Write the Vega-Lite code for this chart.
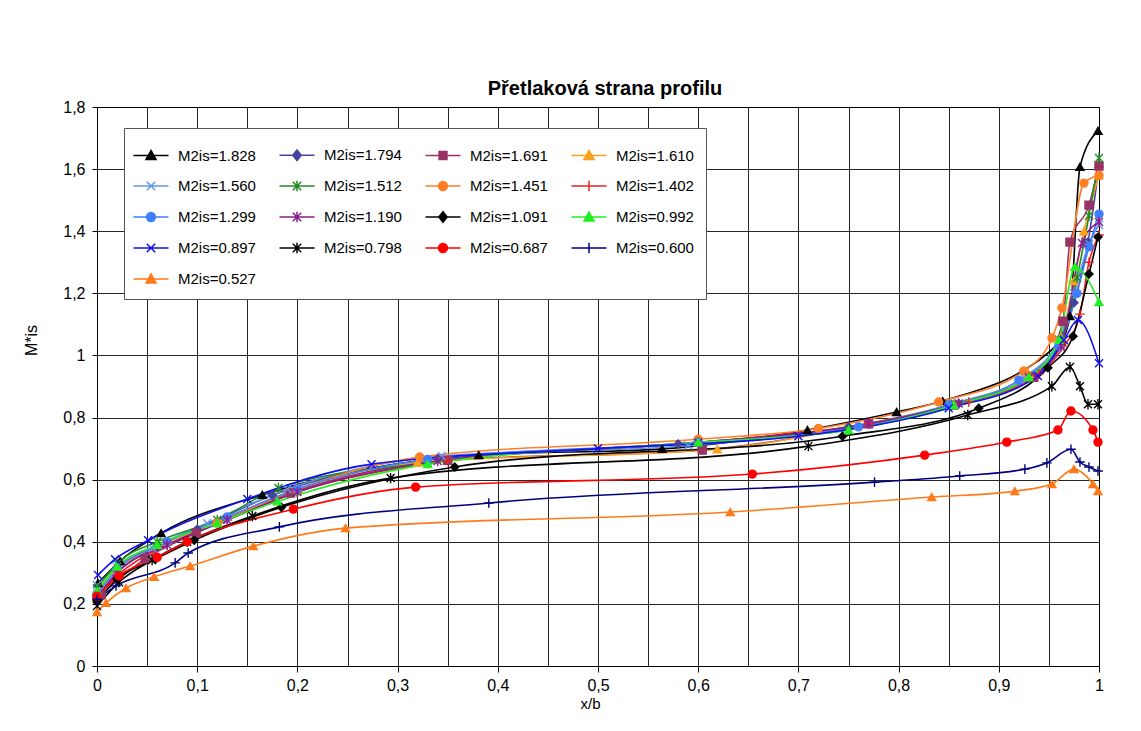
{
  "$schema": "https://vega.github.io/schema/vega-lite/v6.json",
  "width": 1002,
  "height": 559,
  "autosize": {"type": "none"},
  "padding": {"left": 97, "top": 107, "right": 42, "bottom": 65},
  "background": "white",
  "config": {
    "view": {"stroke": "#000000", "strokeWidth": 1},
    "font": "Liberation Sans",
    "axis": {"domainColor": "#000000", "tickColor": "#000000", "gridColor": "#000000", "gridOpacity": 0.85, "labelColor": "#000000", "titleColor": "#000000", "labelFont": "Liberation Sans", "titleFont": "Liberation Sans"}
  },
  "title": {"text": "Přetlaková strana profilu", "fontSize": 20, "fontWeight": "bold", "font": "Liberation Sans", "color": "#000000", "anchor": "middle", "offset": 0, "dx": 7},
  "data": {"values": [
    {"s":"M2is=1.828","x":0.001,"y":0.267},{"s":"M2is=1.828","x":0.023,"y":0.338},{"s":"M2is=1.828","x":0.064,"y":0.428},{"s":"M2is=1.828","x":0.165,"y":0.551},{"s":"M2is=1.828","x":0.381,"y":0.679},{"s":"M2is=1.828","x":0.564,"y":0.699},{"s":"M2is=1.828","x":0.709,"y":0.76},{"s":"M2is=1.828","x":0.798,"y":0.818},{"s":"M2is=1.828","x":0.844,"y":0.853},{"s":"M2is=1.828","x":0.962,"y":1.046},{"s":"M2is=1.828","x":0.971,"y":1.127},{"s":"M2is=1.828","x":0.981,"y":1.607},{"s":"M2is=1.828","x":0.999,"y":1.723},
    {"s":"M2is=1.794","x":0,"y":0.22},{"s":"M2is=1.794","x":0.02,"y":0.3},{"s":"M2is=1.794","x":0.06,"y":0.385},{"s":"M2is=1.794","x":0.1,"y":0.44},{"s":"M2is=1.794","x":0.175,"y":0.55},{"s":"M2is=1.794","x":0.34,"y":0.668},{"s":"M2is=1.794","x":0.58,"y":0.715},{"s":"M2is=1.794","x":0.75,"y":0.77},{"s":"M2is=1.794","x":0.86,"y":0.845},{"s":"M2is=1.794","x":0.93,"y":0.93},{"s":"M2is=1.794","x":0.963,"y":1.06},{"s":"M2is=1.794","x":0.975,"y":1.17},{"s":"M2is=1.794","x":0.989,"y":1.365},{"s":"M2is=1.794","x":1.0,"y":1.607},
    {"s":"M2is=1.691","x":0.004,"y":0.229},{"s":"M2is=1.691","x":0.048,"y":0.345},{"s":"M2is=1.691","x":0.099,"y":0.428},{"s":"M2is=1.691","x":0.193,"y":0.557},{"s":"M2is=1.691","x":0.35,"y":0.662},{"s":"M2is=1.691","x":0.604,"y":0.695},{"s":"M2is=1.691","x":0.77,"y":0.78},{"s":"M2is=1.691","x":0.855,"y":0.84},{"s":"M2is=1.691","x":0.935,"y":0.93},{"s":"M2is=1.691","x":0.964,"y":1.11},{"s":"M2is=1.691","x":0.971,"y":1.365},{"s":"M2is=1.691","x":0.99,"y":1.484},{"s":"M2is=1.691","x":1.0,"y":1.61},
    {"s":"M2is=1.610","x":0,"y":0.24},{"s":"M2is=1.610","x":0.02,"y":0.31},{"s":"M2is=1.610","x":0.07,"y":0.4},{"s":"M2is=1.610","x":0.12,"y":0.465},{"s":"M2is=1.610","x":0.2,"y":0.57},{"s":"M2is=1.610","x":0.32,"y":0.655},{"s":"M2is=1.610","x":0.619,"y":0.698},{"s":"M2is=1.610","x":0.76,"y":0.775},{"s":"M2is=1.610","x":0.855,"y":0.845},{"s":"M2is=1.610","x":0.93,"y":0.94},{"s":"M2is=1.610","x":0.962,"y":1.06},{"s":"M2is=1.610","x":0.975,"y":1.24},{"s":"M2is=1.610","x":0.985,"y":1.4},{"s":"M2is=1.610","x":1.0,"y":1.58},
    {"s":"M2is=1.560","x":0,"y":0.26},{"s":"M2is=1.560","x":0.02,"y":0.32},{"s":"M2is=1.560","x":0.055,"y":0.38},{"s":"M2is=1.560","x":0.11,"y":0.46},{"s":"M2is=1.560","x":0.19,"y":0.57},{"s":"M2is=1.560","x":0.344,"y":0.676},{"s":"M2is=1.560","x":0.59,"y":0.71},{"s":"M2is=1.560","x":0.77,"y":0.78},{"s":"M2is=1.560","x":0.855,"y":0.845},{"s":"M2is=1.560","x":0.925,"y":0.93},{"s":"M2is=1.560","x":0.96,"y":1.05},{"s":"M2is=1.560","x":0.975,"y":1.2},{"s":"M2is=1.560","x":0.99,"y":1.36},{"s":"M2is=1.560","x":1.0,"y":1.42},
    {"s":"M2is=1.512","x":0,"y":0.25},{"s":"M2is=1.512","x":0.02,"y":0.33},{"s":"M2is=1.512","x":0.06,"y":0.4},{"s":"M2is=1.512","x":0.12,"y":0.47},{"s":"M2is=1.512","x":0.181,"y":0.573},{"s":"M2is=1.512","x":0.33,"y":0.655},{"s":"M2is=1.512","x":0.6,"y":0.72},{"s":"M2is=1.512","x":0.75,"y":0.76},{"s":"M2is=1.512","x":0.853,"y":0.84},{"s":"M2is=1.512","x":0.93,"y":0.93},{"s":"M2is=1.512","x":0.962,"y":1.05},{"s":"M2is=1.512","x":0.978,"y":1.25},{"s":"M2is=1.512","x":0.99,"y":1.45},{"s":"M2is=1.512","x":1.0,"y":1.636},
    {"s":"M2is=1.451","x":0,"y":0.23},{"s":"M2is=1.451","x":0.02,"y":0.31},{"s":"M2is=1.451","x":0.07,"y":0.4},{"s":"M2is=1.451","x":0.12,"y":0.46},{"s":"M2is=1.451","x":0.2,"y":0.57},{"s":"M2is=1.451","x":0.322,"y":0.673},{"s":"M2is=1.451","x":0.6,"y":0.73},{"s":"M2is=1.451","x":0.72,"y":0.765},{"s":"M2is=1.451","x":0.84,"y":0.85},{"s":"M2is=1.451","x":0.925,"y":0.95},{"s":"M2is=1.451","x":0.953,"y":1.056},{"s":"M2is=1.451","x":0.963,"y":1.153},{"s":"M2is=1.451","x":0.985,"y":1.555},{"s":"M2is=1.451","x":1.0,"y":1.58},
    {"s":"M2is=1.402","x":0,"y":0.22},{"s":"M2is=1.402","x":0.02,"y":0.29},{"s":"M2is=1.402","x":0.07,"y":0.39},{"s":"M2is=1.402","x":0.13,"y":0.47},{"s":"M2is=1.402","x":0.2,"y":0.56},{"s":"M2is=1.402","x":0.35,"y":0.66},{"s":"M2is=1.402","x":0.6,"y":0.72},{"s":"M2is=1.402","x":0.77,"y":0.78},{"s":"M2is=1.402","x":0.87,"y":0.85},{"s":"M2is=1.402","x":0.94,"y":0.94},{"s":"M2is=1.402","x":0.965,"y":1.03},{"s":"M2is=1.402","x":0.981,"y":1.133},{"s":"M2is=1.402","x":0.99,"y":1.3},{"s":"M2is=1.402","x":1.0,"y":1.388},
    {"s":"M2is=1.299","x":0,"y":0.23},{"s":"M2is=1.299","x":0.02,"y":0.31},{"s":"M2is=1.299","x":0.07,"y":0.4},{"s":"M2is=1.299","x":0.13,"y":0.48},{"s":"M2is=1.299","x":0.2,"y":0.57},{"s":"M2is=1.299","x":0.33,"y":0.665},{"s":"M2is=1.299","x":0.6,"y":0.72},{"s":"M2is=1.299","x":0.76,"y":0.77},{"s":"M2is=1.299","x":0.85,"y":0.84},{"s":"M2is=1.299","x":0.92,"y":0.92},{"s":"M2is=1.299","x":0.96,"y":1.03},{"s":"M2is=1.299","x":0.978,"y":1.2},{"s":"M2is=1.299","x":0.99,"y":1.35},{"s":"M2is=1.299","x":1.0,"y":1.455},
    {"s":"M2is=1.190","x":0,"y":0.22},{"s":"M2is=1.190","x":0.02,"y":0.3},{"s":"M2is=1.190","x":0.07,"y":0.39},{"s":"M2is=1.190","x":0.13,"y":0.47},{"s":"M2is=1.190","x":0.2,"y":0.56},{"s":"M2is=1.190","x":0.34,"y":0.66},{"s":"M2is=1.190","x":0.6,"y":0.72},{"s":"M2is=1.190","x":0.77,"y":0.78},{"s":"M2is=1.190","x":0.86,"y":0.845},{"s":"M2is=1.190","x":0.93,"y":0.93},{"s":"M2is=1.190","x":0.962,"y":1.03},{"s":"M2is=1.190","x":0.983,"y":1.362},{"s":"M2is=1.190","x":1.0,"y":1.43},
    {"s":"M2is=1.091","x":0,"y":0.21},{"s":"M2is=1.091","x":0.02,"y":0.28},{"s":"M2is=1.091","x":0.058,"y":0.344},{"s":"M2is=1.091","x":0.097,"y":0.405},{"s":"M2is=1.091","x":0.184,"y":0.511},{"s":"M2is=1.091","x":0.357,"y":0.641},{"s":"M2is=1.091","x":0.744,"y":0.74},{"s":"M2is=1.091","x":0.88,"y":0.83},{"s":"M2is=1.091","x":0.949,"y":0.96},{"s":"M2is=1.091","x":0.974,"y":1.062},{"s":"M2is=1.091","x":0.99,"y":1.262},{"s":"M2is=1.091","x":0.999,"y":1.381},
    {"s":"M2is=0.992","x":0,"y":0.24},{"s":"M2is=0.992","x":0.02,"y":0.32},{"s":"M2is=0.992","x":0.06,"y":0.39},{"s":"M2is=0.992","x":0.12,"y":0.46},{"s":"M2is=0.992","x":0.18,"y":0.53},{"s":"M2is=0.992","x":0.33,"y":0.65},{"s":"M2is=0.992","x":0.6,"y":0.72},{"s":"M2is=0.992","x":0.75,"y":0.76},{"s":"M2is=0.992","x":0.855,"y":0.84},{"s":"M2is=0.992","x":0.93,"y":0.93},{"s":"M2is=0.992","x":0.96,"y":1.05},{"s":"M2is=0.992","x":0.976,"y":1.285},{"s":"M2is=0.992","x":1.0,"y":1.172},
    {"s":"M2is=0.897","x":0.001,"y":0.293},{"s":"M2is=0.897","x":0.018,"y":0.344},{"s":"M2is=0.897","x":0.051,"y":0.405},{"s":"M2is=0.897","x":0.15,"y":0.538},{"s":"M2is=0.897","x":0.274,"y":0.65},{"s":"M2is=0.897","x":0.5,"y":0.7},{"s":"M2is=0.897","x":0.7,"y":0.74},{"s":"M2is=0.897","x":0.85,"y":0.83},{"s":"M2is=0.897","x":0.939,"y":0.934},{"s":"M2is=0.897","x":0.965,"y":1.05},{"s":"M2is=0.897","x":0.979,"y":1.114},{"s":"M2is=0.897","x":1.0,"y":0.975},
    {"s":"M2is=0.798","x":0,"y":0.193},{"s":"M2is=0.798","x":0.022,"y":0.27},{"s":"M2is=0.798","x":0.055,"y":0.341},{"s":"M2is=0.798","x":0.09,"y":0.4},{"s":"M2is=0.798","x":0.155,"y":0.483},{"s":"M2is=0.798","x":0.293,"y":0.605},{"s":"M2is=0.798","x":0.71,"y":0.708},{"s":"M2is=0.798","x":0.869,"y":0.808},{"s":"M2is=0.798","x":0.953,"y":0.901},{"s":"M2is=0.798","x":0.971,"y":0.963},{"s":"M2is=0.798","x":0.981,"y":0.901},{"s":"M2is=0.798","x":0.989,"y":0.843},{"s":"M2is=0.798","x":0.999,"y":0.843},
    {"s":"M2is=0.687","x":0,"y":0.225},{"s":"M2is=0.687","x":0.022,"y":0.29},{"s":"M2is=0.687","x":0.06,"y":0.35},{"s":"M2is=0.687","x":0.09,"y":0.4},{"s":"M2is=0.687","x":0.196,"y":0.505},{"s":"M2is=0.687","x":0.318,"y":0.576},{"s":"M2is=0.687","x":0.654,"y":0.618},{"s":"M2is=0.687","x":0.826,"y":0.679},{"s":"M2is=0.687","x":0.908,"y":0.721},{"s":"M2is=0.687","x":0.959,"y":0.76},{"s":"M2is=0.687","x":0.972,"y":0.821},{"s":"M2is=0.687","x":0.994,"y":0.76},{"s":"M2is=0.687","x":0.999,"y":0.721},
    {"s":"M2is=0.600","x":0,"y":0.215},{"s":"M2is=0.600","x":0.019,"y":0.258},{"s":"M2is=0.600","x":0.078,"y":0.332},{"s":"M2is=0.600","x":0.091,"y":0.364},{"s":"M2is=0.600","x":0.182,"y":0.448},{"s":"M2is=0.600","x":0.391,"y":0.525},{"s":"M2is=0.600","x":0.776,"y":0.592},{"s":"M2is=0.600","x":0.861,"y":0.612},{"s":"M2is=0.600","x":0.926,"y":0.634},{"s":"M2is=0.600","x":0.948,"y":0.654},{"s":"M2is=0.600","x":0.972,"y":0.698},{"s":"M2is=0.600","x":0.981,"y":0.657},{"s":"M2is=0.600","x":0.99,"y":0.641},{"s":"M2is=0.600","x":0.999,"y":0.628},
    {"s":"M2is=0.527","x":0,"y":0.174},{"s":"M2is=0.527","x":0.009,"y":0.203},{"s":"M2is=0.527","x":0.029,"y":0.251},{"s":"M2is=0.527","x":0.057,"y":0.287},{"s":"M2is=0.527","x":0.093,"y":0.322},{"s":"M2is=0.527","x":0.156,"y":0.386},{"s":"M2is=0.527","x":0.248,"y":0.444},{"s":"M2is=0.527","x":0.632,"y":0.496},{"s":"M2is=0.527","x":0.833,"y":0.544},{"s":"M2is=0.527","x":0.916,"y":0.563},{"s":"M2is=0.527","x":0.953,"y":0.586},{"s":"M2is=0.527","x":0.975,"y":0.634},{"s":"M2is=0.527","x":0.994,"y":0.586},{"s":"M2is=0.527","x":0.999,"y":0.563}
  ]},
  "encoding": {
    "x": {"field": "x", "type": "quantitative", "scale": {"domain": [0, 1], "nice": false, "zero": false},
      "axis": {"title": "x/b", "values": [0,0.05,0.1,0.15,0.2,0.25,0.3,0.35,0.4,0.45,0.5,0.55,0.6,0.65,0.7,0.75,0.8,0.85,0.9,0.95,1],
        "labelExpr": "round(datum.value*20)%2==0 ? replace(format(datum.value,'~g'),'.',',') : ''",
        "tickOpacity": {"condition": {"test": "round(datum.value*20)%2==1", "value": 0}, "value": 1},
        "labelFontSize": 16, "labelPadding": 5, "tickSize": 6, "titleFontSize": 15, "titleFontWeight": "normal", "titleX": 493, "titleY": 30, "titleBaseline": "top", "labelFlush": false}},
    "y": {"field": "y", "type": "quantitative", "scale": {"domain": [0, 1.8], "nice": false},
      "axis": {"title": "M*is", "values": [0,0.2,0.4,0.6,0.8,1,1.2,1.4,1.6,1.8],
        "labelExpr": "replace(format(datum.value,'~g'),'.',',')",
        "labelFontSize": 16, "labelPadding": 7, "tickSize": 5, "titleFontSize": 16, "titleFontWeight": "normal", "titleX": -58, "titleY": 233, "titleAngle": -90}}
  },
  "layer": [
    {
      "mark": {"type": "line", "interpolate": "monotone", "strokeWidth": 1.6},
      "encoding": {
        "color": {"field": "s", "type": "nominal",
          "scale": {"domain": ["M2is=1.828","M2is=1.794","M2is=1.691","M2is=1.610","M2is=1.560","M2is=1.512","M2is=1.451","M2is=1.402","M2is=1.299","M2is=1.190","M2is=1.091","M2is=0.992","M2is=0.897","M2is=0.798","M2is=0.687","M2is=0.600","M2is=0.527"],
            "range": ["#000000","#44449E","#993366","#F9A11B","#6495ED","#228B22","#FF7F27","#EE2020","#3F7FFF","#8B1C8B","#000000","#22EE22","#1010F0","#000000","#FF0000","#000080","#FF7A1A"]},
          "legend": {"title": null, "orient": "none", "legendX": 27, "legendY": 21, "columns": 4, "direction": "horizontal", "columnPadding": 20, "rowPadding": 7, "padding": 12,
            "fillColor": "#ffffff", "strokeColor": "#555555", "labelFontSize": 15, "labelColor": "#000000", "labelFont": "Liberation Sans", "labelOffset": 12, "symbolSize": 784, "symbolStrokeWidth": 1.5, "symbolOpacity": 1,
            "encode": {"symbols": {"update": {
              "shape": {"signal": "['M-1.25,0H1.25M0,-0.36L0.36,0.28L-0.36,0.28Z','M-1.25,0H1.25M0,-0.38L0.3,0L0,0.38L-0.3,0Z','M-1.25,0H1.25M-0.28,-0.28H0.28V0.28H-0.28Z','M-1.25,0H1.25M0,-0.36L0.36,0.28L-0.36,0.28Z','M-1.25,0H1.25M-0.3,-0.3L0.3,0.3M-0.3,0.3L0.3,-0.3','M-1.25,0H1.25M-0.3,-0.3L0.3,0.3M-0.3,0.3L0.3,-0.3M0,-0.38V0.38','M-1.25,0H1.25M-0.32,0A0.32,0.32,0,1,0,0.32,0A0.32,0.32,0,1,0,-0.32,0Z','M-1.25,0H1.25M0,-0.38V0.38','M-1.25,0H1.25M-0.32,0A0.32,0.32,0,1,0,0.32,0A0.32,0.32,0,1,0,-0.32,0Z','M-1.25,0H1.25M-0.3,-0.3L0.3,0.3M-0.3,0.3L0.3,-0.3M0,-0.38V0.38','M-1.25,0H1.25M0,-0.38L0.3,0L0,0.38L-0.3,0Z','M-1.25,0H1.25M0,-0.36L0.36,0.28L-0.36,0.28Z','M-1.25,0H1.25M-0.3,-0.3L0.3,0.3M-0.3,0.3L0.3,-0.3','M-1.25,0H1.25M-0.3,-0.3L0.3,0.3M-0.3,0.3L0.3,-0.3M0,-0.38V0.38','M-1.25,0H1.25M-0.32,0A0.32,0.32,0,1,0,0.32,0A0.32,0.32,0,1,0,-0.32,0Z','M-1.25,0H1.25M0,-0.38V0.38','M-1.25,0H1.25M0,-0.36L0.36,0.28L-0.36,0.28Z'][indexof(domain('color'), datum.value)]"},
              "strokeWidth": {"value": 1.5}
            }}},
            "encoding": {"symbols": {
              "shape": {"value": {"expr": "['M-1.25,0H1.25M0,-0.36L0.36,0.28L-0.36,0.28Z','M-1.25,0H1.25M0,-0.38L0.3,0L0,0.38L-0.3,0Z','M-1.25,0H1.25M-0.28,-0.28H0.28V0.28H-0.28Z','M-1.25,0H1.25M0,-0.36L0.36,0.28L-0.36,0.28Z','M-1.25,0H1.25M-0.3,-0.3L0.3,0.3M-0.3,0.3L0.3,-0.3','M-1.25,0H1.25M-0.3,-0.3L0.3,0.3M-0.3,0.3L0.3,-0.3M0,-0.38V0.38','M-1.25,0H1.25M-0.32,0A0.32,0.32,0,1,0,0.32,0A0.32,0.32,0,1,0,-0.32,0Z','M-1.25,0H1.25M0,-0.38V0.38','M-1.25,0H1.25M-0.32,0A0.32,0.32,0,1,0,0.32,0A0.32,0.32,0,1,0,-0.32,0Z','M-1.25,0H1.25M-0.3,-0.3L0.3,0.3M-0.3,0.3L0.3,-0.3M0,-0.38V0.38','M-1.25,0H1.25M0,-0.38L0.3,0L0,0.38L-0.3,0Z','M-1.25,0H1.25M0,-0.36L0.36,0.28L-0.36,0.28Z','M-1.25,0H1.25M-0.3,-0.3L0.3,0.3M-0.3,0.3L0.3,-0.3','M-1.25,0H1.25M-0.3,-0.3L0.3,0.3M-0.3,0.3L0.3,-0.3M0,-0.38V0.38','M-1.25,0H1.25M-0.32,0A0.32,0.32,0,1,0,0.32,0A0.32,0.32,0,1,0,-0.32,0Z','M-1.25,0H1.25M0,-0.38V0.38','M-1.25,0H1.25M0,-0.36L0.36,0.28L-0.36,0.28Z'][indexof(domain('color'), datum.value)]"}},
              "strokeWidth": {"value": 1.5}
            }}}
        }
      }
    },
    {
      "mark": {"type": "point", "filled": true, "opacity": 1, "size": 64, "strokeWidth": 1.4},
      "encoding": {
        "color": {"field": "s", "type": "nominal"},
        "shape": {"field": "s", "type": "nominal", "legend": null,
          "scale": {"domain": ["M2is=0.527","M2is=0.600","M2is=0.687","M2is=0.798","M2is=0.897","M2is=0.992","M2is=1.091","M2is=1.190","M2is=1.299","M2is=1.402","M2is=1.451","M2is=1.512","M2is=1.560","M2is=1.610","M2is=1.691","M2is=1.794","M2is=1.828"],
            "range": ["triangle-up","M-1.2,0H1.2M0,-1.2V1.2","circle","M-1,-1L1,1M-1,1L1,-1M0,-1.3V1.3","M-1,-1L1,1M-1,1L1,-1","triangle-up","diamond","M-1,-1L1,1M-1,1L1,-1M0,-1.3V1.3","circle","M-1.2,0H1.2M0,-1.2V1.2","circle","M-1,-1L1,1M-1,1L1,-1M0,-1.3V1.3","M-1,-1L1,1M-1,1L1,-1","triangle-up","square","diamond","triangle-up"]}},
        "stroke": {"field": "s", "type": "nominal", "legend": null,
          "scale": {"domain": ["M2is=1.828","M2is=1.794","M2is=1.691","M2is=1.610","M2is=1.560","M2is=1.512","M2is=1.451","M2is=1.402","M2is=1.299","M2is=1.190","M2is=1.091","M2is=0.992","M2is=0.897","M2is=0.798","M2is=0.687","M2is=0.600","M2is=0.527"],
            "range": ["#000000","#44449E","#993366","#F9A11B","#6495ED","#228B22","#FF7F27","#EE2020","#3F7FFF","#8B1C8B","#000000","#22EE22","#1010F0","#000000","#FF0000","#000080","#FF7A1A"]}}
      }
    }
  ]
}
